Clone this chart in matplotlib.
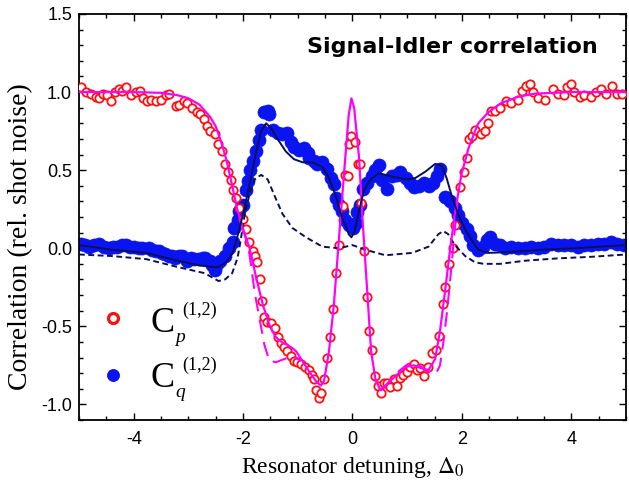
import numpy as np
import matplotlib
matplotlib.use("Agg")
import matplotlib.pyplot as plt
from matplotlib.lines import Line2D
from matplotlib.ticker import MultipleLocator

plt.rcParams['mathtext.fontset'] = 'stix'

# ---- data: C_p (red open circles) ----
cp_x = [-4.96, -4.87, -4.78, -4.69, -4.63, -4.57, -4.48, -4.41, -4.35, -4.27, -4.21, -4.14, -4.05, -3.96,
        -3.88, -3.83, -3.75, -3.69, -3.60, -3.51, -3.41, -3.35, -3.23, -3.17, -3.08, -3.02, -2.93, -2.84,
        -2.78, -2.72, -2.66, -2.60, -2.51, -2.45, -2.39, -2.33, -2.28, -2.22, -2.19, -2.13, -2.07, -2.01,
        -1.94, -1.90, -1.82, -1.78, -1.74, -1.70, -1.65, -1.61, -1.57, -1.49, -1.41, -1.37, -1.31, -1.25,
        -1.19, -1.13, -1.07, -1.01, -0.94, -0.87, -0.79, -0.74, -0.70, -0.67, -0.61, -0.57, -0.52, -0.47,
        -0.41, -0.35, -0.30, -0.25, -0.18, -0.13, -0.09, -0.07, -0.02, 0.04, 0.10, 0.13, 0.16, 0.21, 0.27,
        0.31, 0.36, 0.41, 0.47, 0.53, 0.57, 0.63, 0.69, 0.75, 0.81, 0.87, 0.93, 0.99, 1.06, 1.12, 1.18,
        1.24, 1.30, 1.38, 1.45, 1.52, 1.58, 1.66, 1.70, 1.77, 1.83, 1.87, 1.97, 2.03, 2.09, 2.13, 2.19,
        2.24, 2.35, 2.43, 2.48, 2.53, 2.60, 2.69, 2.81, 2.90, 3.03, 3.09, 3.18, 3.24, 3.30, 3.39, 3.52,
        3.66, 3.75, 3.87, 3.93, 3.99, 4.05, 4.15, 4.24, 4.36, 4.45, 4.54, 4.63, 4.75, 4.84, 4.93]
cp_y = [1.03, 1.00, 0.99, 0.97, 0.96, 0.99, 0.98, 0.94, 1.00, 1.02, 1.01, 1.03, 0.98, 1.00,
        1.01, 0.96, 0.94, 0.95, 0.94, 0.95, 0.98, 0.99, 0.91, 0.92, 0.94, 0.93, 0.90, 0.87,
        0.86, 0.83, 0.78, 0.75, 0.73, 0.67, 0.62, 0.54, 0.49, 0.44, 0.37, 0.32, 0.26, 0.19,
        0.12, 0.04, -0.02, -0.05, -0.09, -0.20, -0.34, -0.44, -0.47, -0.48, -0.51, -0.57, -0.61, -0.63,
        -0.66, -0.69, -0.72, -0.73, -0.74, -0.76, -0.78, -0.81, -0.84, -0.91, -0.96, -0.93, -0.84, -0.70,
        -0.57, -0.39, -0.16, 0.02, 0.27, 0.47, 0.46, 0.67, 0.72, 0.68, 0.54, 0.54, 0.29, -0.02, -0.31,
        -0.53, -0.65, -0.82, -0.88, -0.93, -0.86, -0.86, -0.89, -0.84, -0.88, -0.83, -0.81, -0.79, -0.76, -0.74, -0.78,
        -0.77, -0.82, -0.76, -0.67, -0.65, -0.56, -0.36, -0.25, -0.10, 0.00, 0.15, 0.39, 0.49, 0.58, 0.70, 0.72,
        0.76, 0.73, 0.75, 0.80, 0.88, 0.88, 0.90, 0.94, 0.93, 0.95, 1.01, 1.04, 1.05, 1.00, 0.96, 0.95,
        1.02, 0.99, 0.98, 1.03, 1.05, 1.00, 0.97, 0.98, 0.97, 1.00, 1.02, 0.99, 1.04, 0.99, 0.99]

# ---- data: C_q (blue filled circles) ----
cq_x = [-4.96, -4.89, -4.82, -4.72, -4.63, -4.54, -4.45, -4.37, -4.30, -4.22, -4.14, -4.06, -3.99, -3.91,
        -3.84, -3.72, -3.66, -3.60, -3.54, -3.48, -3.42, -3.36, -3.30, -3.24, -3.18, -3.12, -3.03, -2.96,
        -2.90, -2.81, -2.73, -2.69, -2.61, -2.57, -2.52, -2.47, -2.43, -2.34, -2.25, -2.19, -2.16, -2.10,
        -2.07, -2.01, -1.94, -1.91, -1.88, -1.82, -1.76, -1.71, -1.67, -1.61, -1.55, -1.52, -1.46, -1.37,
        -1.28, -1.19, -1.13, -1.07, -0.98, -0.88, -0.82, -0.79, -0.70, -0.64, -0.55, -0.46, -0.40, -0.34,
        -0.31, -0.25, -0.19, -0.13, -0.07, 0.01, 0.06, 0.09, 0.13, 0.19, 0.27, 0.36, 0.42, 0.48, 0.54,
        0.63, 0.72, 0.81, 0.87, 0.97, 1.06, 1.12, 1.21, 1.30, 1.39, 1.48, 1.54, 1.60, 1.69, 1.78, 1.87,
        1.93, 2.01, 2.09, 2.15, 2.21, 2.30, 2.39, 2.45, 2.51, 2.60, 2.69, 2.78, 2.90, 3.03, 3.15, 3.27,
        3.39, 3.51, 3.63, 3.75, 3.87, 3.99, 4.12, 4.24, 4.36, 4.48, 4.60, 4.72, 4.84, 4.96]
cq_y = [0.03, 0.02, 0.01, 0.02, 0.03, 0.01, 0.00, 0.01, 0.01, 0.02, 0.02, 0.01, 0.01, 0.00,
        0.00, 0.00, -0.01, -0.02, -0.02, -0.03, -0.04, -0.05, -0.05, -0.06, -0.05, -0.05, -0.08, -0.06,
        -0.07, -0.07, -0.06, -0.06, -0.08, -0.11, -0.14, -0.10, -0.08, -0.05, 0.00, 0.04, 0.13, 0.18,
        0.24, 0.28, 0.37, 0.43, 0.50, 0.56, 0.62, 0.69, 0.76, 0.87, 0.88, 0.86, 0.76, 0.74,
        0.73, 0.74, 0.68, 0.65, 0.63, 0.64, 0.61, 0.58, 0.56, 0.54, 0.55, 0.51, 0.45, 0.41,
        0.32, 0.28, 0.24, 0.18, 0.15, 0.13, 0.16, 0.23, 0.28, 0.38, 0.42, 0.46, 0.50, 0.53, 0.44,
        0.38, 0.46, 0.47, 0.49, 0.45, 0.42, 0.39, 0.40, 0.42, 0.40, 0.42, 0.46, 0.51, 0.33, 0.30, 0.26,
        0.21, 0.16, 0.12, 0.08, 0.02, -0.01, 0.01, 0.05, 0.07, 0.03, 0.02, 0.00, 0.01, 0.00, 0.00, 0.01,
        0.00, 0.01, 0.03, 0.02, 0.02, 0.02, 0.01, 0.02, 0.02, 0.03, 0.03, 0.04, 0.03, 0.02]

# ---- theory curves ----
fit_p_x = [-5.0, -4.0, -3.5, -3.2, -3.0, -2.8, -2.6, -2.5, -2.4, -2.3, -2.2, -2.1, -2.0, -1.88, -1.76,
           -1.64, -1.52, -1.42, -1.34, -1.25, -1.19, -1.10, -1.03, -0.92, -0.79, -0.67, -0.58, -0.52,
           -0.43, -0.34, -0.25, -0.15, -0.07, -0.02, 0.03, 0.12, 0.19, 0.27, 0.34, 0.42, 0.51, 0.63,
           0.78, 0.97, 1.12, 1.27, 1.39, 1.51, 1.60, 1.69, 1.78, 1.87, 1.99, 2.12, 2.24, 2.30, 2.48,
           2.72, 3.03, 3.33, 4.0, 5.0]
fit_p_y = [1.0, 1.0, 0.995, 0.98, 0.96, 0.92, 0.84, 0.78, 0.68, 0.56, 0.40, 0.24, 0.12, 0.0, -0.19,
           -0.36, -0.49, -0.56, -0.59, -0.61, -0.62, -0.64, -0.66, -0.72, -0.79, -0.85, -0.88, -0.85,
           -0.66, -0.36, 0.05, 0.50, 0.85, 0.96, 0.90, 0.58, 0.15, -0.28, -0.66, -0.84, -0.91, -0.87,
           -0.82, -0.76, -0.75, -0.77, -0.78, -0.71, -0.53, -0.28, -0.02, 0.22, 0.47, 0.64, 0.75, 0.80, 0.87,
           0.93, 0.97, 0.99, 1.0, 1.0]

alt_p_x = [-2.0, -1.9, -1.85, -1.79, -1.70, -1.61, -1.52, -1.40, -1.25, -1.10, -0.95, np.nan,
           0.55, 0.63, 0.80, 1.00, 1.15, 1.30, 1.42, 1.53, 1.60, 1.67, 1.73, 1.80, 1.86, 1.92]
alt_p_y = [0.12, 0.0, -0.12, -0.28, -0.45, -0.62, -0.72, -0.73, -0.71, -0.69, -0.72, np.nan,
           -0.90, -0.87, -0.80, -0.745, -0.735, -0.77, -0.80, -0.80, -0.75, -0.58, -0.40, -0.15, 0.08, 0.30]

fit_q_x = [-5.0, -4.4, -3.77, -3.2, -2.8, -2.57, -2.45, -2.31, -2.19, -2.10, -2.0, -1.88, -1.76, -1.67,
           -1.58, -1.49, -1.37, -1.22, -1.07, -0.91, -0.73, -0.55, -0.43, -0.31, -0.19, -0.13, -0.07,
           -0.02, 0.04, 0.12, 0.21, 0.33, 0.48, 0.72, 0.97, 1.15, 1.33, 1.51, 1.63, 1.72, 1.81, 1.93,
           2.06, 2.18, 2.30, 2.48, 2.84, 3.45, 4.05, 5.0]
fit_q_y = [0.02, -0.01, -0.03, -0.08, -0.11, -0.12, -0.12, -0.09, -0.03, 0.08, 0.22, 0.41, 0.62, 0.75,
           0.80, 0.77, 0.70, 0.62, 0.57, 0.55, 0.55, 0.52, 0.45, 0.34, 0.19, 0.15, 0.09,
           0.07, 0.11, 0.24, 0.37, 0.44, 0.48, 0.46, 0.44, 0.45, 0.49, 0.54, 0.53, 0.45, 0.34, 0.22,
           0.12, 0.05, -0.01, -0.03, -0.025, -0.01, 0.0, 0.02]

alt_q_x = [-5.0, -4.4, -3.77, -3.2, -2.7, -2.45, -2.33, -2.2, -2.10, -2.04, -1.97, -1.88, -1.79, -1.67,
           -1.55, -1.43, -1.28, -1.10, -0.85, -0.55, -0.25, 0.0, 0.24, 0.6, 1.09, 1.39, 1.57, 1.66, 1.75,
           1.87, 2.06, 2.24, 2.4, 2.7, 3.15, 3.75, 4.36, 5.0]
alt_q_y = [-0.04, -0.05, -0.07, -0.12, -0.16, -0.21, -0.20, -0.16, -0.06, 0.06, 0.22, 0.35, 0.44, 0.47,
           0.44, 0.34, 0.22, 0.13, 0.07, 0.01, 0.0, 0.02, -0.01, -0.045, -0.03, 0.01, 0.09, 0.11, 0.09,
           0.02, -0.05, -0.09, -0.10, -0.10, -0.08, -0.065, -0.055, -0.04]

x_ticks = [-4, -2, 0, 2, 4]
y_ticks = [-1.0, -0.5, 0.0, 0.5, 1.0, 1.5]

RED = '#ff1010'
BLUE = '#0a14f0'
MAG = '#ff00ff'
NAVY = '#0a0f5a'

fig = plt.figure(figsize=(6.29, 4.84), dpi=100)
ax = fig.add_axes([79/629, 1-420/484, (626-79)/629, (420-14)/484])

ax.plot(cq_x, cq_y, 'o', ms=9.4, mfc=BLUE, mec=BLUE, mew=0.5, ls='none', zorder=2)
ax.plot(cp_x, cp_y, 'o', ms=6.0, mfc='white', mec=RED, mew=1.3, ls='none', zorder=3)
ax.plot(alt_p_x, alt_p_y, color=MAG, lw=1.5, dashes=(7, 4), zorder=4)
ax.plot(fit_p_x, fit_p_y, color=MAG, lw=1.6, zorder=5)
ax.plot(alt_q_x, alt_q_y, color=NAVY, lw=1.4, dashes=(3, 1.8), zorder=4)
ax.plot(fit_q_x, fit_q_y, color=NAVY, lw=1.4, zorder=5)

ax.set_xlim(-5, 5)
ax.set_ylim(-1.1, 1.5)
ax.set_xticks(x_ticks)
ax.set_yticks(y_ticks)
ax.set_xticklabels([f"{t:d}" for t in x_ticks])
ax.set_yticklabels([f"{t:.1f}" for t in y_ticks])
ax.xaxis.set_minor_locator(MultipleLocator(0.5))
ax.yaxis.set_minor_locator(MultipleLocator(0.1))
ax.tick_params(which='both', direction='in', top=True, right=True, width=1.0, colors='black')
ax.tick_params(which='major', length=5)
ax.tick_params(which='minor', length=3)
ax.tick_params(axis='x', which='major', pad=8)
ax.tick_params(axis='y', which='major', pad=5)
for lab in ax.get_xticklabels() + ax.get_yticklabels():
    lab.set_fontfamily('Liberation Sans')
    lab.set_fontsize(13)
for s in ax.spines.values():
    s.set_linewidth(1.3)

ax.set_xlabel(r'Resonator detuning, $\Delta_0$', fontfamily='Liberation Serif', fontsize=17, labelpad=5)
ax.set_ylabel('Correlation (rel. shot noise)', fontfamily='Liberation Serif', fontsize=20)
ax.yaxis.set_label_coords((33-79)/547, (420-237)/406)

ax.text(307/629, 1-47/484, 'Signal-Idler correlation', transform=fig.transFigure,
        fontsize=16, fontweight='bold', fontfamily='DejaVu Sans', ha='left', va='center')

# legend markers
h1 = Line2D([], [], marker='o', ls='none', ms=7, mfc='white', mec=RED, mew=2.2)
h2 = Line2D([], [], marker='o', ls='none', ms=8, mfc=BLUE, mec=BLUE)
for h, py in [(h1, 319), (h2, 376)]:
    lg = fig.legend([h], [''], loc='center', bbox_to_anchor=(113/629, 1-py/484),
                    frameon=False, borderpad=0, handlelength=1, handletextpad=0, borderaxespad=0)
    fig.add_artist(lg)

# legend labels
for name, sub, base in [('C', 'p', 332), ('C', 'q', 387)]:
    fig.text(150/629, 1-base/484, 'C', fontfamily='Liberation Serif', fontsize=26, ha='left', va='baseline')
    fig.text(175/629, 1-(base+10)/484, sub, fontfamily='Liberation Serif', fontstyle='italic',
             fontsize=14, ha='left', va='baseline')
    fig.text(182/629, 1-(base-17)/484, '(1,2)', fontfamily='Liberation Serif', fontsize=13,
             ha='left', va='baseline')

fig.savefig('out.png', dpi=100)
